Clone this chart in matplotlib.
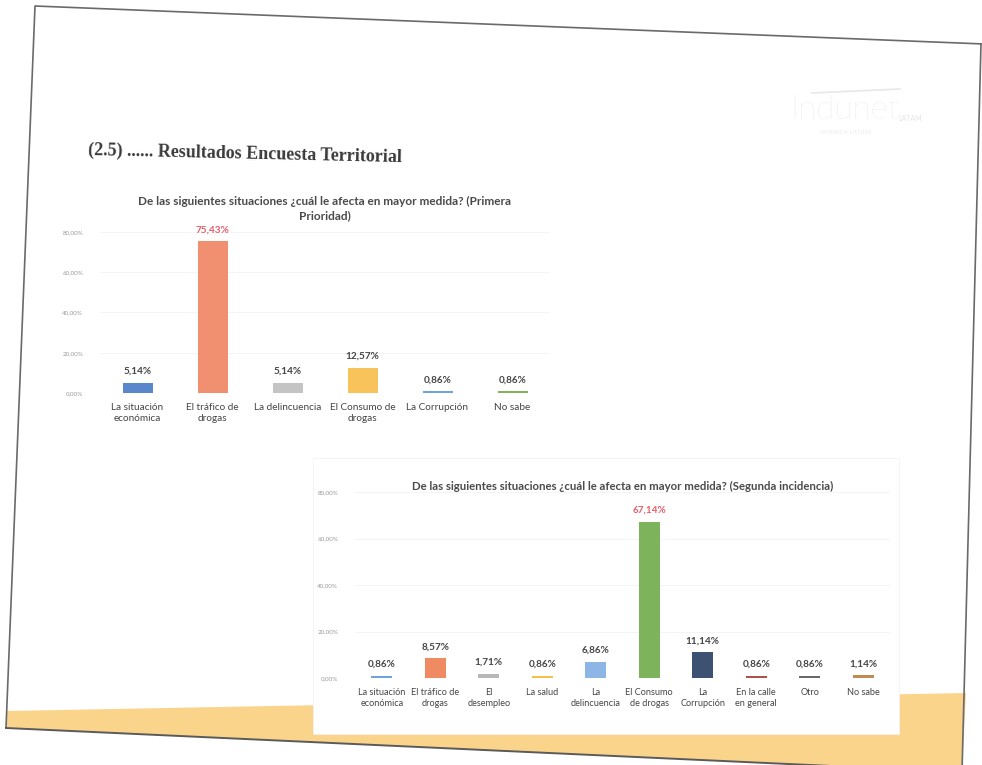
import matplotlib
matplotlib.use("Agg")
import matplotlib.pyplot as plt
from matplotlib.patches import Polygon, Rectangle

# ---------------- data ----------------
cats1 = ["La situación\neconómica", "El tráfico de\ndrogas", "La delincuencia",
         "El Consumo de\ndrogas", "La Corrupción", "No sabe"]
vals1 = [5.14, 75.43, 5.14, 12.57, 0.86, 0.86]
labels1 = ["5,14%", "75,43%", "5,14%", "12,57%", "0,86%", "0,86%"]
colors1 = ["#5a86cc", "#f09070", "#c4c4c4", "#f9c35c", "#6fa3dc", "#7fb45a"]

cats2 = ["La situación\neconómica", "El tráfico de\ndrogas", "El\ndesempleo", "La salud",
         "La\ndelincuencia", "El Consumo\nde drogas", "La\nCorrupción",
         "En la calle\nen general", "Otro", "No sabe"]
vals2 = [0.86, 8.57, 1.71, 0.86, 6.86, 67.14, 11.14, 0.86, 0.86, 1.14]
labels2 = ["0,86%", "8,57%", "1,71%", "0,86%", "6,86%", "67,14%", "11,14%",
           "0,86%", "0,86%", "1,14%"]
colors2 = ["#6fa3dc", "#ef8a62", "#b8b8b8", "#f5c04a", "#8db6e6", "#7db35a",
           "#3d5273", "#b0504a", "#6a6a6a", "#c08a50"]

yticks = [0, 20, 40, 60, 80]
yticklabels = ["0,00%", "20,00%", "40,00%", "60,00%", "80,00%"]

title1 = "De las siguientes situaciones ¿cuál le afecta en mayor medida? (Primera\nPrioridad)"
title2 = "De las siguientes situaciones ¿cuál le afecta en mayor medida? (Segunda incidencia)"
slide_title = "(2.5) ...... Resultados Encuesta Territorial"

W, H = 982, 765
fig = plt.figure(figsize=(W / 100, H / 100), dpi=100)
fig.patch.set_facecolor("white")

# background / decoration axes in pixel coords
bg = fig.add_axes([0, 0, 1, 1], zorder=0)
bg.set_xlim(0, W)
bg.set_ylim(H, 0)
bg.axis("off")

# orange band at bottom of slide
bg.add_patch(Polygon([(6, 711), (966, 693), (962, 772), (6, 728)],
                     closed=True, facecolor="#fbd48c", edgecolor="none"))
# white box of chart 2 over the band
bg.add_patch(Rectangle((313, 458), 586, 276, facecolor="white", edgecolor="#f2f2f2", lw=0.5))
# slide outline
bg.plot([6, 35, 984], [728, 6, 44], color="#6a6a6a", lw=1.2)
bg.plot([6, 962], [728, 772], color="#5a5a5a", lw=1.4)
bg.plot([981, 962], [44, 772], color="#6a6a6a", lw=1.2)

# slide title
bg.text(88, 150, slide_title, family="Liberation Serif", fontsize=13, fontweight="bold",
        color="#3a3a3a", rotation=-1.3, va="center", ha="left", rotation_mode="anchor")
# faint logo
bg.text(790, 110, "Indunet", family="Lato", fontsize=24, fontweight="light",
        color="#e4e4e4", va="center", ha="left")
bg.text(898, 118, "LATAM", family="Lato", fontsize=5, color="#e4e4e4", va="center", ha="left")
bg.plot([812, 900], [93, 89], color="#e8e8e8", lw=1.2)
bg.text(820, 132, "AMÉRICA LATINA", family="Lato", fontsize=4.5, color="#ececec",
        va="center", ha="left")

FONT = "Lato"
TXT = "#454545"
RED = "#e8606a"


def draw_chart(rect, cats, vals, labels, colors, title, title_y, width, catsize, tsize):
    ax = fig.add_axes(rect, zorder=2)
    ax.set_facecolor("none")
    x = list(range(len(cats)))
    ax.bar(x, vals, width=width, color=colors, zorder=3)
    ax.set_xlim(-0.5, len(cats) - 0.5)
    ax.set_ylim(0, 80)
    ax.set_yticks(yticks)
    ax.set_yticklabels(yticklabels, fontsize=4.5, color="#9a9a9a", family=FONT)
    ax.tick_params(axis="y", length=0, pad=12)
    ax.tick_params(axis="x", length=0, pad=7)
    ax.set_xticks(x)
    ax.set_xticklabels(cats, fontsize=catsize, color=TXT, family=FONT, linespacing=1.3)
    for s in ax.spines.values():
        s.set_visible(False)
    ax.grid(axis="y", color="#f3f3f3", lw=0.6, zorder=0)
    vmax = max(vals)
    for xi, v, lab in zip(x, vals, labels):
        ax.annotate(lab, (xi, v), xytext=(0, 5), textcoords="offset points",
                    ha="center", va="bottom", fontsize=7.2, fontweight="bold",
                    family=FONT, color=RED if v == vmax else TXT)
    ax.text(0.5, title_y, title, transform=ax.transAxes, ha="center", va="bottom",
            fontsize=tsize, fontweight="bold", family=FONT, color="#4a4a4a", linespacing=1.3)
    return ax


draw_chart([100 / W, 1 - 393 / H, 450 / W, (393 - 232) / H],
           cats1, vals1, labels1, colors1, title1, 1.07, 0.4, 7.2, 8.5)
draw_chart([355 / W, 1 - 678 / H, 535 / W, (678 - 492) / H],
           cats2, vals2, labels2, colors2, title2, 1.0, 0.4, 6.6, 8.2)

fig.savefig("out.png", dpi=100, facecolor="white")
